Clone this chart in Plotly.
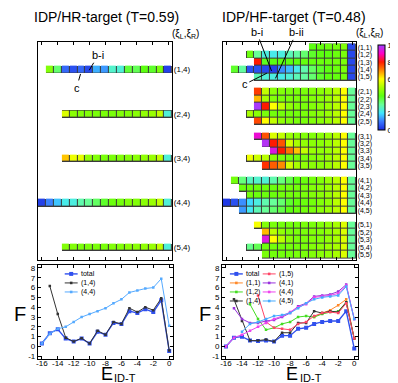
import plotly.graph_objects as go

W, H = 398, 383
FONT = "Arial, Liberation Sans, sans-serif"

# columns of both maps: E_ID-T = -16 .. 0
E_VALUES = list(range(-16, 1))
E_TICKS = list(range(-16, 1, 2))
E_TICK_TEXT = [str(v) for v in E_TICKS]

# ---- IDP/HR-target map (only the (x,4) rows) ----
HR_LABELS = ["(1,4)", "(2,4)", "(3,4)", "(4,4)", "(5,4)"]
HR_ROWS = [3, 9, 15, 21, 27]
HR_START = [-15, -13, -13, -16, -13]
HR_VALUES = [
    [4.5, 3.3, 0.8, 0.5, 0.8, 0.4, 1.5, 1.3, 2.5, 2.4, 3.7, 3.5, 4.0, 3.8, 4.4, 0.3],
    [5.6, 4.6, 4.5, 4.5, 4.4, 4.4, 4.4, 4.5, 4.5, 4.6, 4.7, 4.8, 5.3, 2.4],
    [6.5, 5.8, 5.7, 4.7, 4.5, 4.4, 4.4, 4.5, 4.5, 4.6, 4.7, 4.8, 5.3, 2.4],
    [0.3, 1.1, 1.7, 2.2, 2.3, 2.8, 3.0, 3.4, 3.8, 4.2, 4.3, 4.5, 4.5, 4.6, 4.8, 5.3, 2.4],
    [4.5, 4.5, 4.4, 4.4, 4.4, 4.4, 4.5, 4.5, 4.6, 4.6, 4.7, 4.8, 5.3, 2.4],
]

# ---- IDP/HF-target map ----
HF_LABELS = [f"({i},{j})" for i in range(1, 6) for j in range(1, 6)]
HF_ROWS = [g * 6 + j for g in range(5) for j in range(5)]
HF_START = [-5, -13, -12, -15, -12,
            -12, -12, -12, -13, -12,
            -12, -11, -10, -13, -11,
            -15, -14, -13, -16, -14,
            -12, -11, -11, -13, -11]
HF_VALUES = [
    [4.0, 4.1, 4.2, 4.3, 4.5, 0.4],
    [4.2, 3.0, 2.3, 2.2, 2.3, 2.7, 2.9, 3.3, 3.8, 4.0, 4.0, 4.2, 4.4, 0.4],
    [8.0, 3.9, 4.0, 4.0, 4.0, 4.0, 4.1, 4.1, 4.2, 4.2, 4.3, 4.4, 0.4],
    [3.8, 2.9, 0.5, 0.5, 0.4, 0.3, 1.2, 1.6, 2.2, 2.8, 3.4, 3.8, 4.0, 4.2, 4.4, 0.4],
    [2.7, 2.4, 2.3, 2.2, 2.4, 2.7, 2.9, 3.3, 3.8, 4.0, 4.1, 4.3, 0.4],
    [7.7, 5.3, 4.6, 4.5, 4.4, 4.4, 4.4, 4.5, 4.6, 4.8, 5.2, 6.0, 3.0],
    [6.6, 5.0, 4.5, 4.4, 4.4, 4.4, 4.4, 4.5, 4.6, 4.8, 5.2, 6.0, 3.0],
    [9.9, 8.0, 6.0, 5.3, 4.7, 4.5, 4.4, 4.5, 4.6, 4.8, 5.2, 6.0, 3.0],
    [5.0, 4.6, 4.4, 4.3, 4.3, 4.3, 4.3, 4.4, 4.5, 4.6, 4.8, 5.2, 6.0, 3.0],
    [7.6, 6.0, 5.3, 4.7, 4.5, 4.4, 4.4, 4.5, 4.6, 4.8, 5.2, 6.0, 3.0],
    [9.2, 7.5, 5.6, 5.3, 4.8, 4.6, 4.5, 4.5, 4.6, 4.8, 5.2, 6.0, 3.0],
    [9.8, 8.0, 7.5, 5.5, 5.0, 4.7, 4.6, 4.6, 4.8, 5.2, 6.0, 3.0],
    [9.4, 8.0, 7.2, 6.5, 5.3, 4.8, 4.7, 4.8, 5.2, 6.0, 3.0],
    [5.8, 5.4, 5.2, 4.6, 4.4, 4.3, 4.3, 4.4, 4.5, 4.6, 4.8, 5.2, 6.0, 3.0],
    [7.8, 7.4, 7.0, 5.5, 5.0, 4.7, 4.6, 4.6, 4.8, 5.2, 6.0, 3.0],
    [4.3, 3.2, 2.6, 2.5, 2.4, 2.8, 3.2, 3.6, 4.0, 4.2, 4.3, 4.5, 4.8, 5.2, 6.0, 3.0],
    [4.2, 4.2, 4.2, 4.2, 4.2, 4.3, 4.3, 4.3, 4.4, 4.5, 4.6, 4.8, 5.2, 6.0, 3.0],
    [4.3, 4.2, 4.2, 4.2, 4.3, 4.3, 4.3, 4.4, 4.5, 4.6, 4.8, 5.2, 6.0, 3.0],
    [0.2, 0.5, 1.2, 1.9, 2.3, 2.8, 3.0, 3.3, 3.8, 4.1, 4.2, 4.3, 4.5, 4.7, 5.2, 6.0, 3.0],
    [1.3, 2.1, 2.7, 3.0, 3.3, 3.6, 4.0, 4.2, 4.3, 4.4, 4.6, 4.8, 5.2, 6.0, 3.0],
    [5.9, 4.5, 4.4, 4.3, 4.3, 4.3, 4.4, 4.4, 4.5, 4.7, 5.0, 5.6, 3.0],
    [6.6, 5.2, 4.7, 4.4, 4.4, 4.4, 4.5, 4.5, 4.7, 5.0, 5.6, 3.0],
    [9.4, 6.0, 5.2, 4.6, 4.4, 4.4, 4.5, 4.5, 4.7, 5.0, 5.6, 3.0],
    [3.1, 3.5, 4.2, 4.3, 4.3, 4.3, 4.3, 4.4, 4.5, 4.6, 4.8, 5.0, 5.6, 3.0],
    [4.4, 4.3, 4.3, 4.3, 4.4, 4.4, 4.5, 4.6, 4.7, 5.0, 5.6, 3.0],
]

# ---- free energy profiles F(E_ID-T) ----
HR_LINE_NAMES = ["total", "(1,4)", "(4,4)"]
HR_LINE_START = [-16, -15, -16]
HR_LINE_VALUES = [
    [0.3, 1.35, 1.75, 0.8, 0.5, 0.8, 0.3, 1.5, 1.2, 2.4, 2.3, 3.6, 3.4, 3.8, 3.5, 4.7, -0.45],
    [6.15, 3.3, 0.9, 0.5, 0.85, 0.3, 1.6, 1.2, 2.5, 2.3, 3.9, 3.5, 4.0, 3.7, 4.9, -0.4],
    [0.3, 1.3, 1.8, 2.0, 2.5, 3.0, 3.3, 3.6, 3.9, 4.4, 4.8, 5.5, 5.7, 5.9, 6.0, 6.9, 2.1],
]
HR_LINE_COLORS = ["#3050ee", "#333333", "#55aaff"]

HF_LINE_NAMES = ["total", "(1,1)", "(1,2)", "(1,4)", "(1,5)", "(4,1)", "(4,4)", "(4,5)"]
HF_LINE_START = [-16, -5, -13, -15, -12, -15, -16, -14]
HF_LINE_VALUES = [
    [0.0, 0.9, 1.0, 0.6, 0.55, 0.6, 0.5, 1.1, 1.1, 1.8, 1.9, 2.3, 2.5, 2.6, 2.6, 3.6, -0.2],
    [3.0, 3.4, 3.7, 4.2, 4.8, 0.8],
    [4.3, 2.8, 1.7, 1.9, 2.3, 2.5, 3.0, 3.1, 3.0, 3.3, 3.5, 3.6, 4.5, 0.8],
    [4.8, 2.6, 0.6, 0.6, 0.7, 0.5, 1.4, 1.4, 2.4, 2.4, 3.6, 3.4, 3.6, 3.5, 4.5, 0.8],
    [5.2, 2.5, 1.9, 1.8, 1.7, 2.3, 2.5, 3.1, 3.4, 3.5, 3.4, 4.4, 0.8],
    [3.9, 2.8, 2.4, 2.4, 2.6, 2.7, 3.0, 3.4, 4.1, 4.4, 5.1, 5.2, 5.3, 5.6, 6.3, 2.8],
    [0.0, 0.9, 1.2, 1.6, 2.0, 2.4, 2.8, 3.1, 3.5, 4.0, 4.3, 5.0, 5.1, 5.2, 5.4, 6.2, 2.8],
    [1.5, 2.3, 2.5, 2.8, 3.1, 3.2, 3.4, 3.9, 4.4, 4.8, 5.0, 5.1, 5.2, 6.1, 2.8],
]
HF_LINE_COLORS = ["#3050ee", "#ff8a2a", "#44dd22", "#333333",
                  "#ff4466", "#9933dd", "#ee44ee", "#44aaff"]

COLORSCALE = [
    [0.0, "#1a2ae0"], [0.1, "#3a78ff"], [0.2, "#40e6ff"], [0.3, "#68ff98"],
    [0.4, "#5cff10"], [0.5, "#a8ff00"], [0.6, "#ffff00"], [0.7, "#ff8a00"],
    [0.8, "#ff1a00"], [0.9, "#ff00c8"], [1.0, "#a040ff"],
]

LEG_FONT = 7
LEG_STEP = LEG_FONT * 1.3  # plotly line spacing for multi-line text


def px(x):
    return x / W


def py(y):
    return 1 - y / H


def build_grid(rows, starts, values):
    z = [[None] * len(E_VALUES) for _ in range(29)]
    mask = [[None] * len(E_VALUES) for _ in range(29)]
    for r, s, vals in zip(rows, starts, values):
        for k, v in enumerate(vals):
            c = E_VALUES.index(s + k)
            z[r][c] = v
            mask[r][c] = 1
    return z, mask


fig = go.Figure()

# heatmaps: a dark layer underneath shows through the gaps as cell borders
for (rows, starts, values), xa, ya in [((HR_ROWS, HR_START, HR_VALUES), "x", "y"),
                                       ((HF_ROWS, HF_START, HF_VALUES), "x2", "y2")]:
    z, mask = build_grid(rows, starts, values)
    fig.add_trace(go.Heatmap(
        x=E_VALUES, y=list(range(29)), z=mask, xaxis=xa, yaxis=ya,
        colorscale=[[0, "#3a3a3a"], [1, "#3a3a3a"]], zmin=0, zmax=1,
        showscale=False, hoverinfo="skip"))
    fig.add_trace(go.Heatmap(
        x=E_VALUES, y=list(range(29)), z=z, xaxis=xa, yaxis=ya,
        coloraxis="coloraxis", xgap=1, ygap=1))

# F profiles
for names, starts, values, colors, xa, ya in [
        (HR_LINE_NAMES, HR_LINE_START, HR_LINE_VALUES, HR_LINE_COLORS, "x3", "y3"),
        (HF_LINE_NAMES, HF_LINE_START, HF_LINE_VALUES, HF_LINE_COLORS, "x4", "y4")]:
    for name, s, vals, col in zip(names, starts, values, colors):
        is_total = name == "total"
        fig.add_trace(go.Scatter(
            x=list(range(s, s + len(vals))), y=vals, name=name,
            xaxis=xa, yaxis=ya, mode="lines+markers", showlegend=False,
            line=dict(color=col, width=1.4 if is_total else 1),
            marker=dict(color=col, size=4 if is_total else 2.5, symbol="square")))

# small hand-drawn legends inside the F panels (one text block per column)
shapes, annotations = [], []


def legend_column(x0, y_top, names, colors):
    for i, (name, color) in enumerate(zip(names, colors)):
        y = y_top + i * LEG_STEP
        big = name == "total"
        shapes.append(dict(type="line", xref="paper", yref="paper",
                           x0=px(x0), x1=px(x0 + 13), y0=py(y), y1=py(y),
                           line=dict(color=color, width=1.4 if big else 1)))
        hs = 2 if big else 1.3
        shapes.append(dict(type="rect", xref="paper", yref="paper",
                           x0=px(x0 + 6.5 - hs), x1=px(x0 + 6.5 + hs),
                           y0=py(y + hs), y1=py(y - hs),
                           fillcolor=color, line=dict(width=0)))
    annotations.append(dict(text="<br>".join(names), xref="paper", yref="paper",
                            x=px(x0 + 15), y=py(y_top - LEG_STEP / 2),
                            xanchor="left", yanchor="top", align="left",
                            showarrow=False, borderpad=0,
                            font=dict(size=LEG_FONT, color="black")))


legend_column(55, 267, HR_LINE_NAMES, HR_LINE_COLORS)
legend_column(221, 267, HF_LINE_NAMES[:4], HF_LINE_COLORS[:4])
legend_column(254, 267, HF_LINE_NAMES[4:], HF_LINE_COLORS[4:])

# titles and labels
for text, x, y, size, anchor in [
        ("IDP/HR-target (T=0.59)", 97, 8, 14, "center"),
        ("IDP/HF-target (T=0.48)", 285, 8, 14, "center"),
        ("(ξ<sub>L</sub>,ξ<sub>R</sub>)", 176, 25, 10, "center"),
        ("(ξ<sub>L</sub>,ξ<sub>R</sub>)", 361, 24, 10, "center"),
        ("F", 10, 307, 20, "center"),
        ("F", 196, 307, 20, "center"),
        ("E", 97, 368, 18, "center"),
        ("ID-T", 104, 372, 11, "left"),
        ("E", 283, 368, 18, "center"),
        ("ID-T", 290, 372, 11, "left")]:
    annotations.append(dict(text=text, xref="paper", yref="paper", x=px(x), y=py(y),
                            xanchor=anchor, yanchor="middle", showarrow=False,
                            borderpad=0, font=dict(size=size, color="black")))

# state markers on the maps
for text, xa, ya, x, y, ax, ay in [
        ("b-i", "x", "y", -10, 3.1, 9, -15),
        ("c", "x", "y", -11.1, 3.6, -4, 14),
        ("b-i", "x2", "y2", -10.3, 3.2, -15, -39),
        ("b-ii", "x2", "y2", -9.8, 4.2, 21, -46),
        ("c", "x2", "y2", -10.9, 3.5, -22, 11)]:
    annotations.append(dict(text=text, xref=xa, yref=ya, x=x, y=y, ax=ax, ay=ay,
                            showarrow=True, arrowhead=0, arrowwidth=1,
                            arrowcolor="black", standoff=0,
                            font=dict(size=11, color="black")))

axis_common = dict(showline=True, linecolor="black", linewidth=1, mirror="allticks",
                   showgrid=False, zeroline=False, ticks="inside", ticklen=3,
                   tickcolor="black", tickfont=dict(size=8, color="black"))

map_x = dict(axis_common, range=[-16.5, 0.5], tickvals=E_TICKS,
             showticklabels=False)
line_x = dict(axis_common, range=[-16.5, 0.5], tickvals=E_TICKS,
              ticktext=E_TICK_TEXT, tickangle=0, ticklabelstandoff=-4)
line_y = dict(axis_common, range=[-1.3, 8.3], tickvals=list(range(-1, 9)),
              ticktext=[str(v) for v in range(-1, 9)])

fig.update_layout(
    width=W, height=H, margin=dict(l=0, r=0, t=0, b=0),
    paper_bgcolor="white", plot_bgcolor="white",
    font=dict(family=FONT, color="black"),
    showlegend=False,
    shapes=shapes, annotations=annotations,
    coloraxis=dict(
        colorscale=COLORSCALE, cmin=0, cmax=10,
        colorbar=dict(x=px(370), xanchor="left", y=py(36), yanchor="top",
                      lenmode="pixels", len=85, thickness=7, xpad=0, ypad=0,
                      outlinecolor="black", outlinewidth=1, ticks="",
                      tickvals=[0, 2, 4, 6, 8, 10],
                      tickfont=dict(size=8, color="black"))),
    xaxis=dict(map_x, domain=[px(28), px(163)], anchor="y"),
    yaxis=dict(axis_common, domain=[py(253), py(33)], anchor="x",
               range=[28.75, -0.75], ticks="", side="right", ticklabelstandoff=-1,
               tickvals=HR_ROWS, ticktext=HR_LABELS, mirror=True),
    xaxis2=dict(map_x, domain=[px(214), px(348)], anchor="y2"),
    yaxis2=dict(axis_common, domain=[py(253), py(33)], anchor="x2",
                range=[28.75, -0.75], ticks="", side="right", ticklabelstandoff=-1,
                tickvals=HF_ROWS, ticktext=HF_LABELS, mirror=True,
                tickfont=dict(size=7, color="black")),
    xaxis3=dict(line_x, domain=[px(28), px(164)], anchor="y3"),
    yaxis3=dict(line_y, domain=[py(353), py(258)], anchor="x3"),
    xaxis4=dict(line_x, domain=[px(213), px(350)], anchor="y4"),
    yaxis4=dict(line_y, domain=[py(353), py(258)], anchor="x4"),
)

fig.write_html("out.html")
